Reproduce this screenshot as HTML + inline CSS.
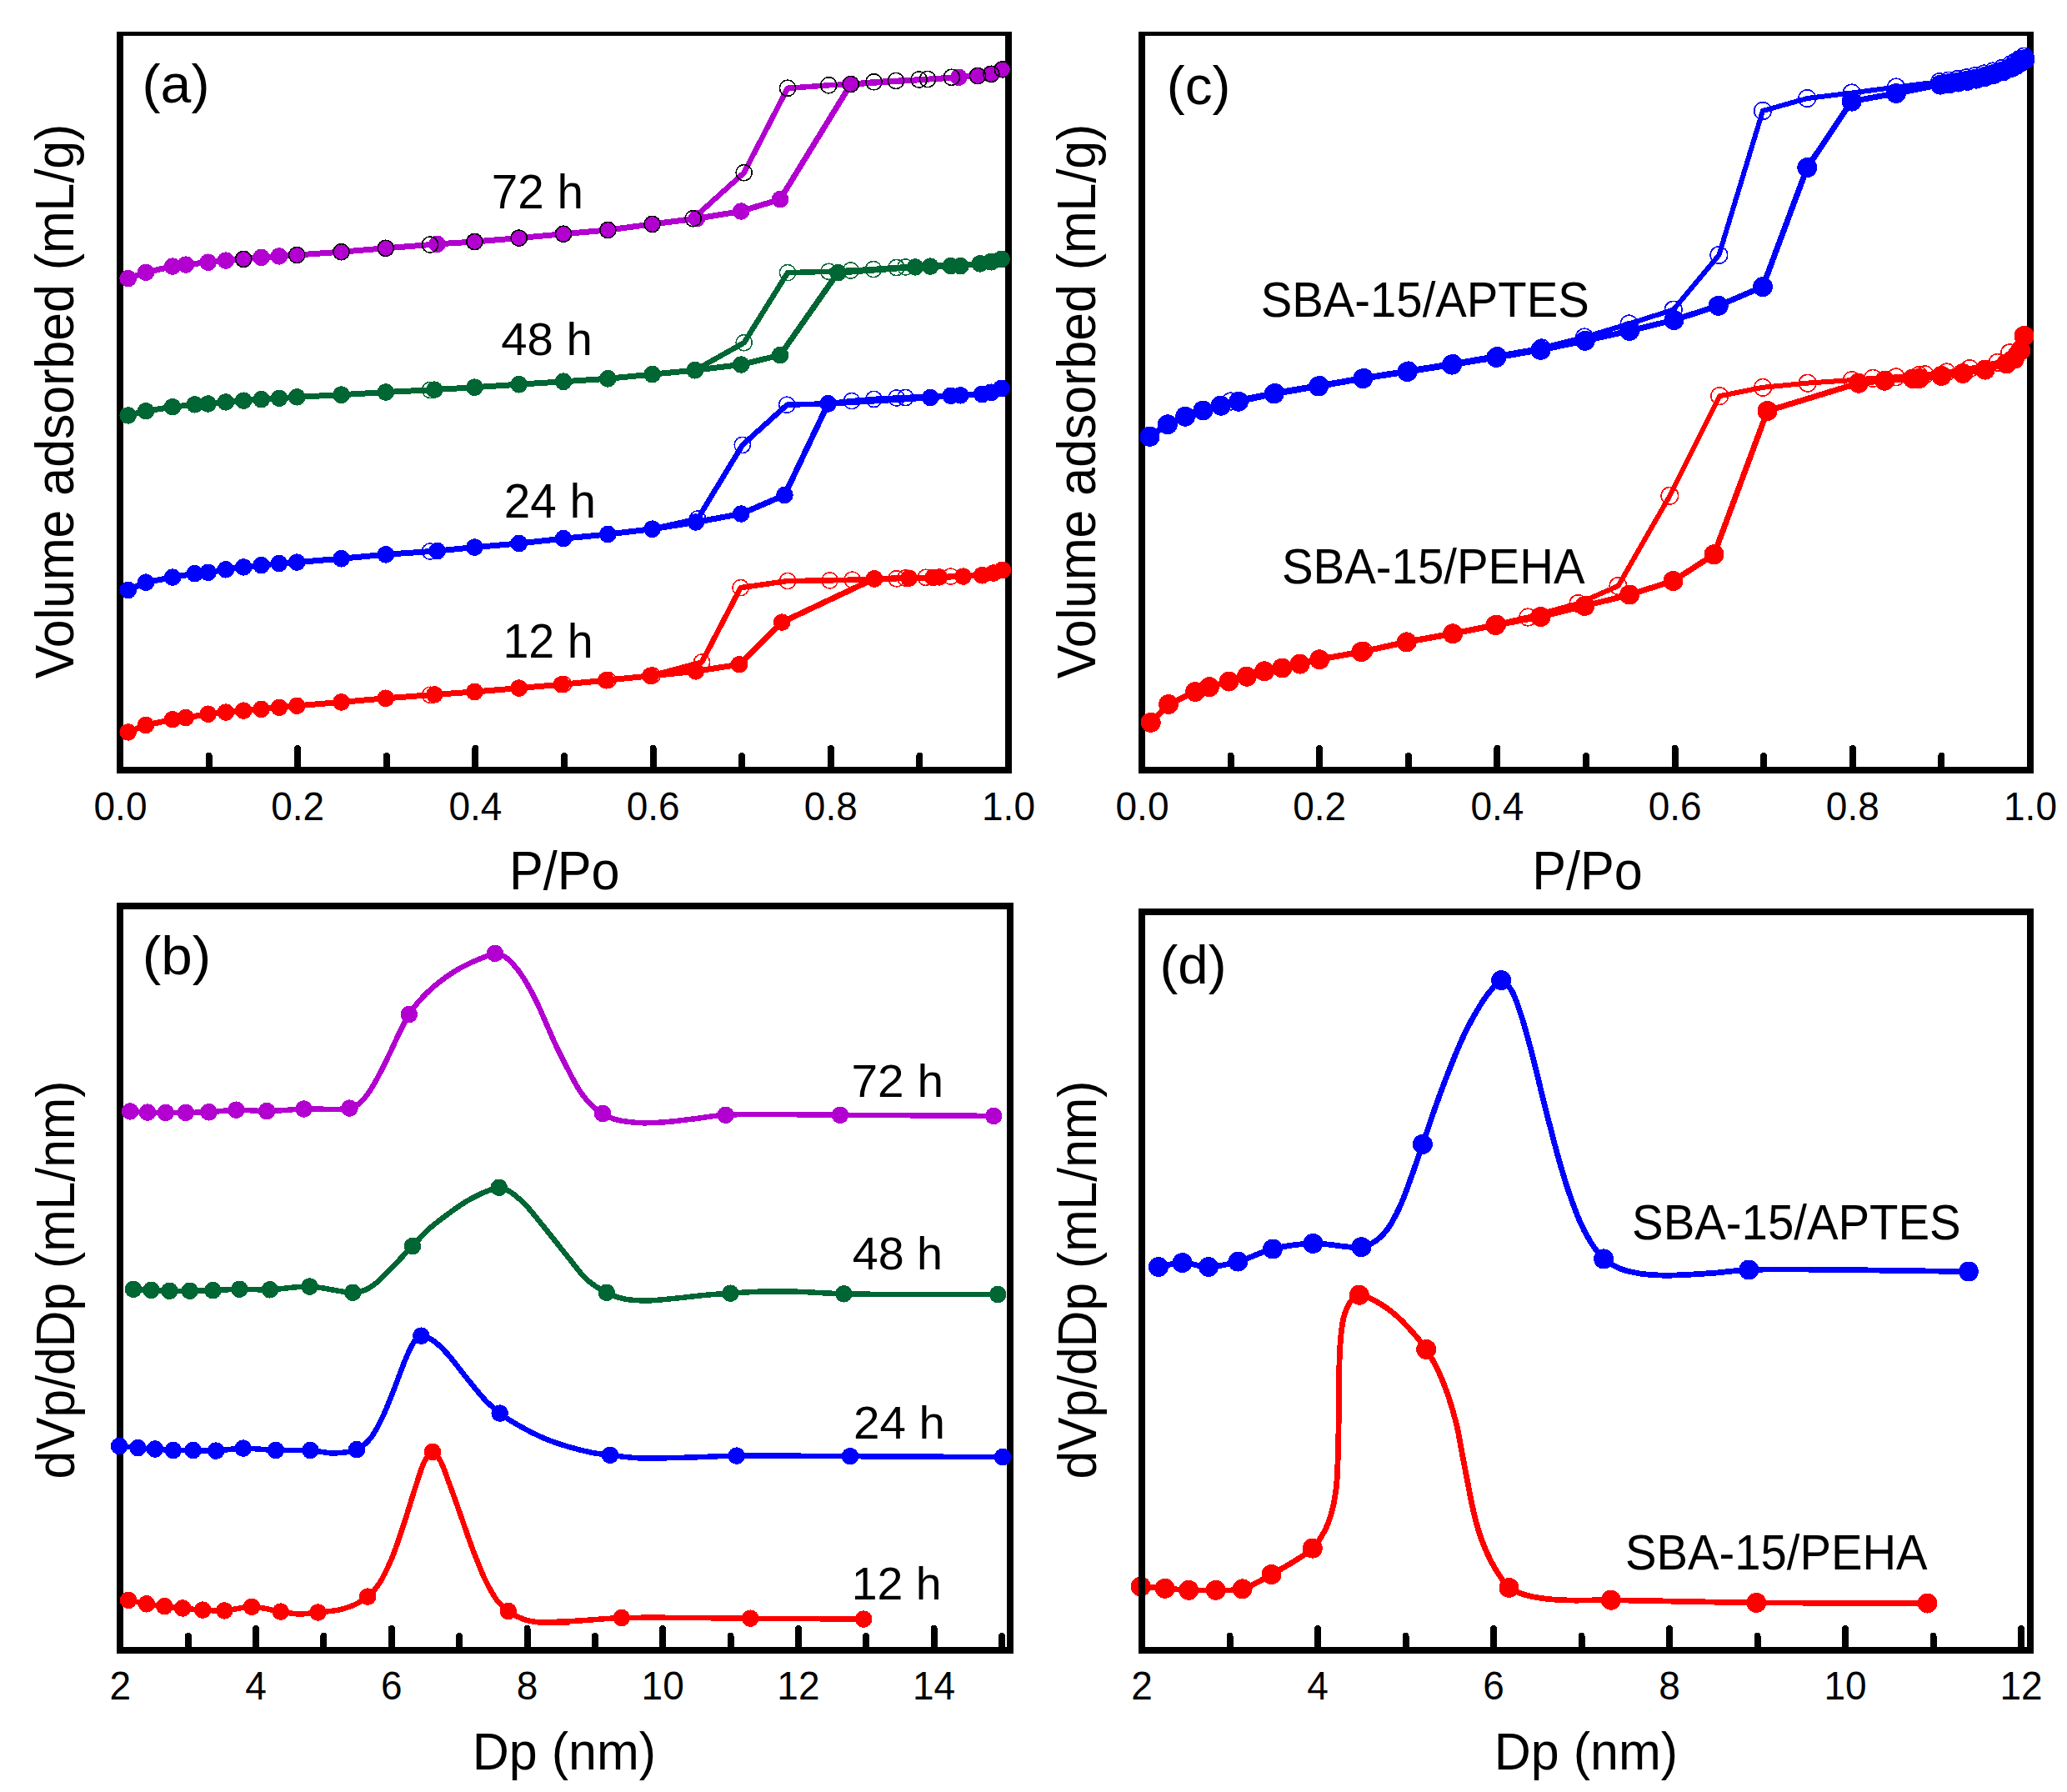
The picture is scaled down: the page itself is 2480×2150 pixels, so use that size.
<!DOCTYPE html><html><head><meta charset="utf-8"><title>N2 sorption isotherms and pore size distributions</title><style>html,body{margin:0;padding:0;background:#fff;overflow:hidden}svg{display:block}</style></head><body><svg width="2480" height="2150" viewBox="0 0 2480 2150" shape-rendering="crispEdges"><rect width="2480" height="2150" fill="#fff"/><g fill="#000" shape-rendering="crispEdges"><rect x="140" y="38" width="1074" height="5"/><rect x="140" y="920" width="1074" height="8"/><rect x="140" y="38" width="8" height="890"/><rect x="1206" y="38" width="8" height="890"/></g><g stroke="#000" stroke-width="8" stroke-linecap="round"><line x1="357.2" x2="357.2" y1="923" y2="898.0"/><line x1="570.4" x2="570.4" y1="923" y2="898.0"/><line x1="783.6" x2="783.6" y1="923" y2="898.0"/><line x1="996.8" x2="996.8" y1="923" y2="898.0"/><line x1="250.6" x2="250.6" y1="923" y2="907.0"/><line x1="463.8" x2="463.8" y1="923" y2="907.0"/><line x1="677.0" x2="677.0" y1="923" y2="907.0"/><line x1="890.2" x2="890.2" y1="923" y2="907.0"/><line x1="1103.4" x2="1103.4" y1="923" y2="907.0"/></g><path d="M153.7,878.4 L175.0,870.0 L207.0,863.3 L222.9,861.0 L249.6,856.7 L270.9,854.6 L292.2,852.6 L313.6,850.9 L334.9,848.8 L356.2,846.8 L409.5,842.4 L462.8,837.8 L521.4,833.4 L569.4,830.0 L622.7,825.6 L673.8,821.2 L727.1,816.3 L780.4,810.8 L834.8,805.4 L887.0,797.2 L938.2,746.6 L1049.0,694.3 L1090.6,693.7 L1119.4,692.9 L1126.9,692.4 L1155.6,691.6 L1178.0,690.2 L1191.9,687.5 L1202.5,684.0" fill="none" stroke="#FF0000" stroke-width="7" stroke-linejoin="round" stroke-linecap="round"/><g fill="#FF0000"><ellipse cx="153.7" cy="878.4" rx="10.3" ry="10.3"/><ellipse cx="175.0" cy="870.0" rx="10.3" ry="10.3"/><ellipse cx="207.0" cy="863.3" rx="10.3" ry="10.3"/><ellipse cx="222.9" cy="861.0" rx="10.3" ry="10.3"/><ellipse cx="249.6" cy="856.7" rx="10.3" ry="10.3"/><ellipse cx="270.9" cy="854.6" rx="10.3" ry="10.3"/><ellipse cx="292.2" cy="852.6" rx="10.3" ry="10.3"/><ellipse cx="313.6" cy="850.9" rx="10.3" ry="10.3"/><ellipse cx="334.9" cy="848.8" rx="10.3" ry="10.3"/><ellipse cx="356.2" cy="846.8" rx="10.3" ry="10.3"/><ellipse cx="409.5" cy="842.4" rx="10.3" ry="10.3"/><ellipse cx="462.8" cy="837.8" rx="10.3" ry="10.3"/><ellipse cx="521.4" cy="833.4" rx="10.3" ry="10.3"/><ellipse cx="569.4" cy="830.0" rx="10.3" ry="10.3"/><ellipse cx="622.7" cy="825.6" rx="10.3" ry="10.3"/><ellipse cx="673.8" cy="821.2" rx="10.3" ry="10.3"/><ellipse cx="727.1" cy="816.3" rx="10.3" ry="10.3"/><ellipse cx="780.4" cy="810.8" rx="10.3" ry="10.3"/><ellipse cx="834.8" cy="805.4" rx="10.3" ry="10.3"/><ellipse cx="887.0" cy="797.2" rx="10.3" ry="10.3"/><ellipse cx="938.2" cy="746.6" rx="10.3" ry="10.3"/><ellipse cx="1049.0" cy="694.3" rx="10.3" ry="10.3"/><ellipse cx="1090.6" cy="693.7" rx="10.3" ry="10.3"/><ellipse cx="1119.4" cy="692.9" rx="10.3" ry="10.3"/><ellipse cx="1126.9" cy="692.4" rx="10.3" ry="10.3"/><ellipse cx="1155.6" cy="691.6" rx="10.3" ry="10.3"/><ellipse cx="1178.0" cy="690.2" rx="10.3" ry="10.3"/><ellipse cx="1191.9" cy="687.5" rx="10.3" ry="10.3"/><ellipse cx="1202.5" cy="684.0" rx="10.3" ry="10.3"/></g><path d="M1202.9,684.0 L1192.0,687.5 L1178.5,690.2 L1140.6,691.6 L1110.8,692.8 L1086.4,693.5 L1075.6,694.3 L1049.0,694.5 L1022.7,695.6 L995.6,696.4 L945.0,697.0 L888.6,705.1 L842.0,794.5 L782.6,810.5 L729.3,816.0 L676.0,820.9 L622.7,825.6 L569.4,830.0 L516.1,833.8 L462.8,837.8 L409.5,842.4" fill="none" stroke="#FF0000" stroke-width="6.5" stroke-linejoin="round" stroke-linecap="round"/><g fill="none" stroke="#FF0000" stroke-width="1.6"><circle cx="1202.9" cy="684.0" r="9.6"/><circle cx="1192.0" cy="687.5" r="9.6"/><circle cx="1178.5" cy="690.2" r="9.6"/><circle cx="1140.6" cy="691.6" r="9.6"/><circle cx="1110.8" cy="692.8" r="9.6"/><circle cx="1086.4" cy="693.5" r="9.6"/><circle cx="1075.6" cy="694.3" r="9.6"/><circle cx="1049.0" cy="694.5" r="9.6"/><circle cx="1022.7" cy="695.6" r="9.6"/><circle cx="995.6" cy="696.4" r="9.6"/><circle cx="945.0" cy="697.0" r="9.6"/><circle cx="888.6" cy="705.1" r="9.6"/><circle cx="842.0" cy="794.5" r="9.6"/><circle cx="782.6" cy="810.5" r="9.6"/><circle cx="729.3" cy="816.0" r="9.6"/><circle cx="676.0" cy="820.9" r="9.6"/><circle cx="622.7" cy="825.6" r="9.6"/><circle cx="569.4" cy="830.0" r="9.6"/><circle cx="516.1" cy="833.8" r="9.6"/><circle cx="462.8" cy="837.8" r="9.6"/><circle cx="409.5" cy="842.4" r="9.6"/></g><path d="M153.7,708.0 L175.0,698.7 L207.0,692.6 L233.6,688.2 L249.6,686.8 L270.9,683.3 L292.2,680.4 L313.6,678.1 L334.9,676.0 L356.2,674.6 L409.5,670.2 L462.8,665.3 L524.6,661.0 L569.4,656.6 L622.7,652.0 L676.0,646.2 L729.3,641.0 L782.6,634.7 L834.8,626.5 L889.2,616.5 L941.4,594.0 L993.6,484.3 L1116.2,477.0 L1140.7,474.8 L1152.4,474.3 L1178.0,472.9 L1188.7,470.8 L1201.5,465.9" fill="none" stroke="#0000FF" stroke-width="7" stroke-linejoin="round" stroke-linecap="round"/><g fill="#0000FF"><ellipse cx="153.7" cy="708.0" rx="10.3" ry="10.3"/><ellipse cx="175.0" cy="698.7" rx="10.3" ry="10.3"/><ellipse cx="207.0" cy="692.6" rx="10.3" ry="10.3"/><ellipse cx="233.6" cy="688.2" rx="10.3" ry="10.3"/><ellipse cx="249.6" cy="686.8" rx="10.3" ry="10.3"/><ellipse cx="270.9" cy="683.3" rx="10.3" ry="10.3"/><ellipse cx="292.2" cy="680.4" rx="10.3" ry="10.3"/><ellipse cx="313.6" cy="678.1" rx="10.3" ry="10.3"/><ellipse cx="334.9" cy="676.0" rx="10.3" ry="10.3"/><ellipse cx="356.2" cy="674.6" rx="10.3" ry="10.3"/><ellipse cx="409.5" cy="670.2" rx="10.3" ry="10.3"/><ellipse cx="462.8" cy="665.3" rx="10.3" ry="10.3"/><ellipse cx="524.6" cy="661.0" rx="10.3" ry="10.3"/><ellipse cx="569.4" cy="656.6" rx="10.3" ry="10.3"/><ellipse cx="622.7" cy="652.0" rx="10.3" ry="10.3"/><ellipse cx="676.0" cy="646.2" rx="10.3" ry="10.3"/><ellipse cx="729.3" cy="641.0" rx="10.3" ry="10.3"/><ellipse cx="782.6" cy="634.7" rx="10.3" ry="10.3"/><ellipse cx="834.8" cy="626.5" rx="10.3" ry="10.3"/><ellipse cx="889.2" cy="616.5" rx="10.3" ry="10.3"/><ellipse cx="941.4" cy="594.0" rx="10.3" ry="10.3"/><ellipse cx="993.6" cy="484.3" rx="10.3" ry="10.3"/><ellipse cx="1116.2" cy="477.0" rx="10.3" ry="10.3"/><ellipse cx="1140.7" cy="474.8" rx="10.3" ry="10.3"/><ellipse cx="1152.4" cy="474.3" rx="10.3" ry="10.3"/><ellipse cx="1178.0" cy="472.9" rx="10.3" ry="10.3"/><ellipse cx="1188.7" cy="470.8" rx="10.3" ry="10.3"/><ellipse cx="1201.5" cy="465.9" rx="10.3" ry="10.3"/></g><path d="M1201.5,465.9 L1189.3,470.8 L1178.5,472.9 L1086.4,477.0 L1075.6,477.5 L1048.5,478.9 L1021.9,481.1 L993.7,484.3 L944.2,485.7 L890.8,533.9 L837.1,622.5 L782.6,634.7 L729.3,641.0 L676.0,646.2 L622.7,652.0 L569.4,656.6 L516.1,661.5 L462.8,665.3 L409.5,670.2" fill="none" stroke="#0000FF" stroke-width="6.5" stroke-linejoin="round" stroke-linecap="round"/><g fill="none" stroke="#0000FF" stroke-width="1.6"><circle cx="1201.5" cy="465.9" r="9.6"/><circle cx="1189.3" cy="470.8" r="9.6"/><circle cx="1178.5" cy="472.9" r="9.6"/><circle cx="1086.4" cy="477.0" r="9.6"/><circle cx="1075.6" cy="477.5" r="9.6"/><circle cx="1048.5" cy="478.9" r="9.6"/><circle cx="1021.9" cy="481.1" r="9.6"/><circle cx="993.7" cy="484.3" r="9.6"/><circle cx="944.2" cy="485.7" r="9.6"/><circle cx="890.8" cy="533.9" r="9.6"/><circle cx="837.1" cy="622.5" r="9.6"/><circle cx="782.6" cy="634.7" r="9.6"/><circle cx="729.3" cy="641.0" r="9.6"/><circle cx="676.0" cy="646.2" r="9.6"/><circle cx="622.7" cy="652.0" r="9.6"/><circle cx="569.4" cy="656.6" r="9.6"/><circle cx="516.1" cy="661.5" r="9.6"/><circle cx="462.8" cy="665.3" r="9.6"/><circle cx="409.5" cy="670.2" r="9.6"/></g><path d="M153.7,498.4 L175.0,493.2 L207.0,488.2 L233.6,485.3 L249.6,484.5 L270.9,482.4 L292.2,480.7 L313.6,479.2 L334.9,477.8 L356.2,476.3 L409.5,473.7 L462.8,470.5 L521.4,467.6 L569.4,464.7 L622.7,461.2 L676.0,457.8 L729.3,454.3 L782.6,449.1 L833.7,444.2 L889.2,437.5 L936.0,426.1 L1005.3,327.2 L1098.1,320.4 L1116.2,319.6 L1140.7,319.1 L1152.4,319.1 L1175.9,316.3 L1188.7,314.2 L1201.5,310.9" fill="none" stroke="#006633" stroke-width="7" stroke-linejoin="round" stroke-linecap="round"/><g fill="#006633"><ellipse cx="153.7" cy="498.4" rx="10.3" ry="10.3"/><ellipse cx="175.0" cy="493.2" rx="10.3" ry="10.3"/><ellipse cx="207.0" cy="488.2" rx="10.3" ry="10.3"/><ellipse cx="233.6" cy="485.3" rx="10.3" ry="10.3"/><ellipse cx="249.6" cy="484.5" rx="10.3" ry="10.3"/><ellipse cx="270.9" cy="482.4" rx="10.3" ry="10.3"/><ellipse cx="292.2" cy="480.7" rx="10.3" ry="10.3"/><ellipse cx="313.6" cy="479.2" rx="10.3" ry="10.3"/><ellipse cx="334.9" cy="477.8" rx="10.3" ry="10.3"/><ellipse cx="356.2" cy="476.3" rx="10.3" ry="10.3"/><ellipse cx="409.5" cy="473.7" rx="10.3" ry="10.3"/><ellipse cx="462.8" cy="470.5" rx="10.3" ry="10.3"/><ellipse cx="521.4" cy="467.6" rx="10.3" ry="10.3"/><ellipse cx="569.4" cy="464.7" rx="10.3" ry="10.3"/><ellipse cx="622.7" cy="461.2" rx="10.3" ry="10.3"/><ellipse cx="676.0" cy="457.8" rx="10.3" ry="10.3"/><ellipse cx="729.3" cy="454.3" rx="10.3" ry="10.3"/><ellipse cx="782.6" cy="449.1" rx="10.3" ry="10.3"/><ellipse cx="833.7" cy="444.2" rx="10.3" ry="10.3"/><ellipse cx="889.2" cy="437.5" rx="10.3" ry="10.3"/><ellipse cx="936.0" cy="426.1" rx="10.3" ry="10.3"/><ellipse cx="1005.3" cy="327.2" rx="10.3" ry="10.3"/><ellipse cx="1098.1" cy="320.4" rx="10.3" ry="10.3"/><ellipse cx="1116.2" cy="319.6" rx="10.3" ry="10.3"/><ellipse cx="1140.7" cy="319.1" rx="10.3" ry="10.3"/><ellipse cx="1152.4" cy="319.1" rx="10.3" ry="10.3"/><ellipse cx="1175.9" cy="316.3" rx="10.3" ry="10.3"/><ellipse cx="1188.7" cy="314.2" rx="10.3" ry="10.3"/><ellipse cx="1201.5" cy="310.9" rx="10.3" ry="10.3"/></g><path d="M1201.5,310.9 L1189.3,314.2 L1175.8,316.3 L1086.4,320.4 L1075.6,321.0 L1047.9,323.1 L1020.8,324.5 L994.3,325.8 L945.0,327.2 L892.7,411.2 L833.9,444.2 L782.6,449.1 L729.3,454.3 L676.0,457.8 L622.7,461.2 L569.4,464.7 L516.1,467.9 L462.8,470.5 L409.5,473.7" fill="none" stroke="#006633" stroke-width="6.5" stroke-linejoin="round" stroke-linecap="round"/><g fill="none" stroke="#006633" stroke-width="1.6"><circle cx="1201.5" cy="310.9" r="9.6"/><circle cx="1189.3" cy="314.2" r="9.6"/><circle cx="1175.8" cy="316.3" r="9.6"/><circle cx="1086.4" cy="320.4" r="9.6"/><circle cx="1075.6" cy="321.0" r="9.6"/><circle cx="1047.9" cy="323.1" r="9.6"/><circle cx="1020.8" cy="324.5" r="9.6"/><circle cx="994.3" cy="325.8" r="9.6"/><circle cx="945.0" cy="327.2" r="9.6"/><circle cx="892.7" cy="411.2" r="9.6"/><circle cx="833.9" cy="444.2" r="9.6"/><circle cx="782.6" cy="449.1" r="9.6"/><circle cx="729.3" cy="454.3" r="9.6"/><circle cx="676.0" cy="457.8" r="9.6"/><circle cx="622.7" cy="461.2" r="9.6"/><circle cx="569.4" cy="464.7" r="9.6"/><circle cx="516.1" cy="467.9" r="9.6"/><circle cx="462.8" cy="470.5" r="9.6"/><circle cx="409.5" cy="473.7" r="9.6"/></g><path d="M153.7,334.1 L175.0,326.8 L207.0,319.6 L222.9,317.6 L249.6,314.7 L270.9,312.6 L292.2,310.9 L313.6,308.9 L334.9,307.4 L356.2,306.0 L409.5,302.2 L462.8,297.8 L524.6,292.9 L569.4,290.0 L622.7,285.6 L676.0,280.7 L729.3,276.0 L782.6,268.9 L835.9,262.2 L889.2,253.5 L936.0,239.1 L1020.8,101.0 L1150.3,92.8 L1172.7,91.0 L1188.7,88.8 L1202.5,83.3" fill="none" stroke="#B200D0" stroke-width="7" stroke-linejoin="round" stroke-linecap="round"/><g fill="#B200D0"><ellipse cx="153.7" cy="334.1" rx="10.3" ry="10.3"/><ellipse cx="175.0" cy="326.8" rx="10.3" ry="10.3"/><ellipse cx="207.0" cy="319.6" rx="10.3" ry="10.3"/><ellipse cx="222.9" cy="317.6" rx="10.3" ry="10.3"/><ellipse cx="249.6" cy="314.7" rx="10.3" ry="10.3"/><ellipse cx="270.9" cy="312.6" rx="10.3" ry="10.3"/><ellipse cx="292.2" cy="310.9" rx="10.3" ry="10.3"/><ellipse cx="313.6" cy="308.9" rx="10.3" ry="10.3"/><ellipse cx="334.9" cy="307.4" rx="10.3" ry="10.3"/><ellipse cx="356.2" cy="306.0" rx="10.3" ry="10.3"/><ellipse cx="409.5" cy="302.2" rx="10.3" ry="10.3"/><ellipse cx="462.8" cy="297.8" rx="10.3" ry="10.3"/><ellipse cx="524.6" cy="292.9" rx="10.3" ry="10.3"/><ellipse cx="569.4" cy="290.0" rx="10.3" ry="10.3"/><ellipse cx="622.7" cy="285.6" rx="10.3" ry="10.3"/><ellipse cx="676.0" cy="280.7" rx="10.3" ry="10.3"/><ellipse cx="729.3" cy="276.0" rx="10.3" ry="10.3"/><ellipse cx="782.6" cy="268.9" rx="10.3" ry="10.3"/><ellipse cx="835.9" cy="262.2" rx="10.3" ry="10.3"/><ellipse cx="889.2" cy="253.5" rx="10.3" ry="10.3"/><ellipse cx="936.0" cy="239.1" rx="10.3" ry="10.3"/><ellipse cx="1020.8" cy="101.0" rx="10.3" ry="10.3"/><ellipse cx="1150.3" cy="92.8" rx="10.3" ry="10.3"/><ellipse cx="1172.7" cy="91.0" rx="10.3" ry="10.3"/><ellipse cx="1188.7" cy="88.8" rx="10.3" ry="10.3"/><ellipse cx="1202.5" cy="83.3" rx="10.3" ry="10.3"/></g><path d="M1202.9,83.3 L1189.3,88.8 L1173.0,91.0 L1141.9,92.8 L1113.0,95.0 L1102.6,95.5 L1075.0,96.9 L1048.5,98.3 L1020.8,101.0 L994.3,102.3 L945.0,105.8 L892.7,207.2 L831.7,262.2 L782.6,268.9 L729.3,276.0 L676.0,280.7 L622.7,285.6 L569.4,290.0 L516.1,293.5 L462.8,297.8 L409.5,302.2 L356.2,306.0 L292.2,310.9" fill="none" stroke="#B200D0" stroke-width="6.5" stroke-linejoin="round" stroke-linecap="round"/><g fill="none" stroke="#000" stroke-width="1.6"><circle cx="1202.9" cy="83.3" r="9.6"/><circle cx="1189.3" cy="88.8" r="9.6"/><circle cx="1173.0" cy="91.0" r="9.6"/><circle cx="1141.9" cy="92.8" r="9.6"/><circle cx="1113.0" cy="95.0" r="9.6"/><circle cx="1102.6" cy="95.5" r="9.6"/><circle cx="1075.0" cy="96.9" r="9.6"/><circle cx="1048.5" cy="98.3" r="9.6"/><circle cx="1020.8" cy="101.0" r="9.6"/><circle cx="994.3" cy="102.3" r="9.6"/><circle cx="945.0" cy="105.8" r="9.6"/><circle cx="892.7" cy="207.2" r="9.6"/><circle cx="831.7" cy="262.2" r="9.6"/><circle cx="782.6" cy="268.9" r="9.6"/><circle cx="729.3" cy="276.0" r="9.6"/><circle cx="676.0" cy="280.7" r="9.6"/><circle cx="622.7" cy="285.6" r="9.6"/><circle cx="569.4" cy="290.0" r="9.6"/><circle cx="516.1" cy="293.5" r="9.6"/><circle cx="462.8" cy="297.8" r="9.6"/><circle cx="409.5" cy="302.2" r="9.6"/><circle cx="356.2" cy="306.0" r="9.6"/><circle cx="292.2" cy="310.9" r="9.6"/></g><g fill="#000" shape-rendering="crispEdges"><rect x="140" y="1083" width="1076" height="8"/><rect x="140" y="1976" width="1076" height="8"/><rect x="140" y="1083" width="8" height="901"/><rect x="1208" y="1083" width="8" height="901"/></g><g stroke="#000" stroke-width="8" stroke-linecap="round"><line x1="307.1" x2="307.1" y1="1979" y2="1954.0"/><line x1="469.8" x2="469.8" y1="1979" y2="1954.0"/><line x1="632.5" x2="632.5" y1="1979" y2="1954.0"/><line x1="795.2" x2="795.2" y1="1979" y2="1954.0"/><line x1="957.9" x2="957.9" y1="1979" y2="1954.0"/><line x1="1120.6" x2="1120.6" y1="1979" y2="1954.0"/><line x1="225.8" x2="225.8" y1="1979" y2="1963.0"/><line x1="388.4" x2="388.4" y1="1979" y2="1963.0"/><line x1="551.1" x2="551.1" y1="1979" y2="1963.0"/><line x1="713.8" x2="713.8" y1="1979" y2="1963.0"/><line x1="876.5" x2="876.5" y1="1979" y2="1963.0"/><line x1="1039.2" x2="1039.2" y1="1979" y2="1963.0"/><line x1="1202.0" x2="1202.0" y1="1979" y2="1963.0"/></g><path d="M154.1,1919.9 C161.3,1921.4 168.6,1923.1 175.9,1924.3 C183.0,1925.5 190.2,1926.3 197.3,1927.2 C204.6,1928.1 211.7,1928.8 219.1,1929.5 C226.9,1930.3 235.0,1931.1 243.2,1931.6 C251.7,1932.1 260.2,1932.9 269.3,1932.4 C279.7,1931.9 291.1,1927.6 302.1,1927.8 C313.5,1927.9 326.4,1932.1 336.7,1933.6 C345.0,1934.8 351.8,1936.4 359.3,1936.5 C366.7,1936.6 373.8,1935.3 381.4,1934.5 C389.3,1933.6 398.4,1933.1 405.8,1931.6 C412.1,1930.2 417.5,1928.8 423.2,1926.3 C429.3,1923.6 435.9,1920.0 441.2,1915.6 C446.5,1911.1 450.8,1906.1 455.1,1899.6 C460.4,1891.7 465.1,1881.2 469.6,1870.6 C474.9,1858.3 479.4,1844.0 484.1,1830.0 C489.1,1815.0 493.9,1797.5 498.7,1783.5 C502.6,1771.8 505.9,1758.8 510.3,1751.6 C513.0,1747.1 516.1,1742.0 519.0,1742.0 C521.9,1742.0 524.9,1747.2 527.7,1751.6 C531.9,1758.4 535.3,1770.1 539.3,1780.6 C544.0,1793.0 549.0,1807.7 553.8,1821.2 C558.6,1834.8 563.3,1848.9 568.3,1861.9 C573.0,1874.0 577.6,1886.3 582.8,1896.7 C587.4,1905.8 592.2,1915.0 597.3,1921.4 C601.3,1926.3 604.9,1929.5 609.8,1933.0 C615.4,1936.9 622.3,1940.8 629.3,1943.2 C636.5,1945.6 644.3,1946.3 652.5,1946.9 C661.6,1947.6 681.5,1946.7 681.5,1946.6 C681.5,1946.6 650.0,1946.9 650.0,1946.6 C650.0,1946.3 678.4,1945.5 693.5,1944.6 C710.2,1943.7 723.8,1941.8 745.8,1941.1 C783.6,1939.9 850.4,1941.5 900.2,1941.7 C947.0,1942.0 990.8,1942.3 1036.1,1942.6" fill="none" stroke="#FF0000" stroke-width="6.5" stroke-linejoin="round" stroke-linecap="round"/><g fill="#FF0000"><ellipse cx="154.1" cy="1919.9" rx="10.3" ry="10.3"/><ellipse cx="175.9" cy="1924.3" rx="10.3" ry="10.3"/><ellipse cx="197.3" cy="1927.2" rx="10.3" ry="10.3"/><ellipse cx="219.1" cy="1929.5" rx="10.3" ry="10.3"/><ellipse cx="243.2" cy="1931.6" rx="10.3" ry="10.3"/><ellipse cx="269.3" cy="1932.4" rx="10.3" ry="10.3"/><ellipse cx="302.1" cy="1927.8" rx="10.3" ry="10.3"/><ellipse cx="336.7" cy="1933.6" rx="10.3" ry="10.3"/><ellipse cx="381.4" cy="1934.5" rx="10.3" ry="10.3"/><ellipse cx="441.2" cy="1915.6" rx="10.3" ry="10.3"/><ellipse cx="519.0" cy="1742.0" rx="10.3" ry="10.3"/><ellipse cx="609.8" cy="1933.0" rx="10.3" ry="10.3"/><ellipse cx="745.8" cy="1941.1" rx="10.3" ry="10.3"/><ellipse cx="900.2" cy="1941.7" rx="10.3" ry="10.3"/><ellipse cx="1036.1" cy="1942.6" rx="10.3" ry="10.3"/></g><path d="M143.1,1735.0 C150.5,1735.7 158.1,1736.5 165.4,1737.1 C172.4,1737.6 179.1,1738.0 186.0,1738.5 C193.2,1739.0 200.4,1739.7 207.8,1740.0 C215.5,1740.2 223.4,1739.9 231.6,1740.0 C240.5,1740.1 249.6,1740.9 259.2,1740.6 C269.6,1740.2 280.3,1737.8 291.7,1737.6 C304.1,1737.5 317.6,1739.6 330.9,1740.0 C344.5,1740.4 360.0,1739.2 372.4,1740.0 C382.5,1740.6 390.7,1743.6 400.0,1743.5 C409.3,1743.3 420.5,1742.4 428.1,1739.1 C434.4,1736.3 438.9,1732.2 443.5,1726.9 C449.1,1720.5 453.5,1711.3 458.0,1702.2 C463.2,1691.8 467.8,1679.3 472.5,1667.4 C477.4,1655.1 482.4,1640.2 487.0,1629.7 C490.5,1621.8 493.5,1614.0 497.2,1609.3 C499.7,1606.2 502.1,1603.2 505.3,1602.7 C509.1,1602.1 514.4,1605.1 519.0,1607.9 C524.8,1611.5 530.4,1617.5 536.4,1623.9 C543.9,1631.9 551.8,1643.4 559.6,1652.9 C567.3,1662.2 575.5,1672.9 582.8,1680.5 C588.7,1686.5 593.4,1690.7 599.7,1695.6 C606.7,1701.0 615.0,1706.1 623.5,1710.9 C632.5,1716.1 642.7,1721.3 652.5,1725.5 C662.0,1729.5 671.8,1732.7 681.5,1735.6 C691.1,1738.5 701.5,1741.1 710.6,1742.9 C718.2,1744.3 724.1,1744.8 732.1,1745.8 C742.2,1747.0 753.3,1748.7 766.1,1749.3 C782.9,1750.0 804.7,1749.1 824.2,1748.7 C843.9,1748.2 859.8,1747.0 883.7,1746.6 C919.8,1746.1 971.3,1747.0 1020.1,1747.2 C1076.6,1747.5 1142.0,1747.8 1203.0,1748.1" fill="none" stroke="#0000FF" stroke-width="6.5" stroke-linejoin="round" stroke-linecap="round"/><g fill="#0000FF"><ellipse cx="143.1" cy="1735.0" rx="10.3" ry="10.3"/><ellipse cx="165.4" cy="1737.1" rx="10.3" ry="10.3"/><ellipse cx="186.0" cy="1738.5" rx="10.3" ry="10.3"/><ellipse cx="207.8" cy="1740.0" rx="10.3" ry="10.3"/><ellipse cx="231.6" cy="1740.0" rx="10.3" ry="10.3"/><ellipse cx="259.2" cy="1740.6" rx="10.3" ry="10.3"/><ellipse cx="291.7" cy="1737.6" rx="10.3" ry="10.3"/><ellipse cx="330.9" cy="1740.0" rx="10.3" ry="10.3"/><ellipse cx="372.4" cy="1740.0" rx="10.3" ry="10.3"/><ellipse cx="428.1" cy="1739.1" rx="10.3" ry="10.3"/><ellipse cx="505.3" cy="1602.7" rx="10.3" ry="10.3"/><ellipse cx="599.7" cy="1695.6" rx="10.3" ry="10.3"/><ellipse cx="732.1" cy="1745.8" rx="10.3" ry="10.3"/><ellipse cx="883.7" cy="1746.6" rx="10.3" ry="10.3"/><ellipse cx="1020.1" cy="1747.2" rx="10.3" ry="10.3"/><ellipse cx="1203.0" cy="1748.1" rx="10.3" ry="10.3"/></g><path d="M159.9,1546.8 C167.1,1547.2 174.2,1547.6 181.4,1547.9 C188.7,1548.3 195.9,1548.6 203.4,1548.8 C211.4,1549.0 219.4,1548.9 227.8,1548.8 C236.7,1548.7 245.9,1548.5 255.4,1548.2 C265.7,1547.9 276.3,1546.9 287.3,1546.8 C299.1,1546.6 310.9,1547.8 323.9,1547.3 C338.7,1546.9 355.3,1543.1 371.5,1543.6 C388.4,1544.1 411.3,1551.2 423.2,1550.8 C429.5,1550.6 433.0,1549.8 437.7,1547.9 C442.7,1545.9 447.2,1542.7 452.2,1538.6 C458.7,1533.4 465.6,1525.3 472.5,1518.3 C479.8,1510.9 487.5,1502.7 494.9,1495.1 C502.0,1487.7 508.9,1479.8 516.1,1473.3 C522.7,1467.3 529.3,1462.6 536.4,1457.4 C543.8,1451.9 551.7,1446.1 559.6,1441.4 C567.2,1436.9 575.7,1432.6 582.8,1429.8 C588.5,1427.5 593.8,1424.7 598.8,1424.8 C603.4,1425.0 607.4,1427.2 611.9,1429.8 C617.5,1433.1 623.3,1438.4 629.3,1444.3 C636.8,1451.8 644.4,1462.0 652.5,1471.9 C661.7,1483.1 672.3,1496.9 681.5,1508.2 C689.6,1518.0 696.4,1528.4 704.7,1535.7 C712.0,1542.2 720.1,1547.0 727.8,1550.8 C734.7,1554.3 741.0,1556.8 748.7,1558.4 C757.5,1560.2 767.6,1560.5 777.7,1560.4 C788.8,1560.3 801.0,1558.6 812.6,1557.5 C824.2,1556.4 836.3,1554.7 847.4,1553.7 C857.5,1552.8 866.3,1552.3 876.4,1551.7 C887.5,1551.0 899.0,1550.0 911.2,1549.7 C924.9,1549.3 939.3,1549.3 954.8,1549.7 C972.6,1550.1 987.7,1551.7 1012.3,1552.3 C1056.4,1553.4 1135.5,1552.9 1197.2,1553.1" fill="none" stroke="#006633" stroke-width="6.5" stroke-linejoin="round" stroke-linecap="round"/><g fill="#006633"><ellipse cx="159.9" cy="1546.8" rx="10.3" ry="10.3"/><ellipse cx="181.4" cy="1547.9" rx="10.3" ry="10.3"/><ellipse cx="203.4" cy="1548.8" rx="10.3" ry="10.3"/><ellipse cx="227.8" cy="1548.8" rx="10.3" ry="10.3"/><ellipse cx="255.4" cy="1548.2" rx="10.3" ry="10.3"/><ellipse cx="287.3" cy="1546.8" rx="10.3" ry="10.3"/><ellipse cx="323.9" cy="1547.3" rx="10.3" ry="10.3"/><ellipse cx="371.5" cy="1543.6" rx="10.3" ry="10.3"/><ellipse cx="423.2" cy="1550.8" rx="10.3" ry="10.3"/><ellipse cx="494.9" cy="1495.1" rx="10.3" ry="10.3"/><ellipse cx="598.8" cy="1424.8" rx="10.3" ry="10.3"/><ellipse cx="727.8" cy="1550.8" rx="10.3" ry="10.3"/><ellipse cx="876.4" cy="1551.7" rx="10.3" ry="10.3"/><ellipse cx="1012.3" cy="1552.3" rx="10.3" ry="10.3"/><ellipse cx="1197.2" cy="1553.1" rx="10.3" ry="10.3"/></g><path d="M156.1,1333.4 C163.1,1333.8 170.0,1334.3 177.0,1334.6 C184.2,1334.8 191.4,1334.8 198.8,1334.9 C206.6,1334.9 214.6,1334.9 222.9,1334.9 C231.8,1334.8 240.9,1334.8 250.5,1334.3 C260.9,1333.8 272.0,1331.9 283.3,1331.7 C295.2,1331.4 307.3,1333.2 320.1,1333.1 C334.2,1333.0 349.0,1331.1 364.5,1330.5 C381.9,1329.9 407.8,1332.5 419.4,1329.6 C425.3,1328.2 428.1,1326.3 431.9,1323.3 C436.2,1319.8 439.8,1314.6 443.5,1309.3 C447.6,1303.3 451.3,1296.1 455.1,1289.0 C459.1,1281.6 462.9,1273.7 466.7,1265.8 C470.6,1257.7 474.3,1249.2 478.3,1241.1 C482.3,1233.0 485.9,1224.5 490.8,1217.0 C495.6,1209.5 501.5,1202.4 507.4,1196.1 C512.9,1190.2 518.6,1185.2 524.8,1180.1 C531.1,1175.0 538.2,1169.9 545.1,1165.6 C551.7,1161.5 558.8,1158.0 565.4,1154.9 C571.4,1152.1 577.7,1149.6 582.8,1147.6 C586.9,1146.1 590.1,1143.8 593.9,1143.9 C597.8,1143.9 602.1,1145.7 606.1,1148.2 C611.0,1151.4 616.2,1157.4 620.6,1162.7 C624.9,1168.1 628.5,1173.9 632.2,1180.1 C636.2,1186.9 640.1,1194.3 643.8,1201.9 C647.8,1210.2 651.5,1219.3 655.4,1228.0 C659.3,1236.7 662.8,1245.3 667.0,1254.2 C671.5,1263.6 676.6,1273.8 681.5,1283.2 C686.3,1292.2 690.8,1301.7 696.0,1309.3 C700.6,1316.0 705.6,1322.1 710.6,1326.7 C714.7,1330.6 718.7,1333.4 723.1,1336.0 C727.6,1338.7 731.4,1341.0 737.1,1342.7 C744.9,1345.1 756.4,1346.4 766.1,1347.1 C775.8,1347.7 785.0,1347.1 795.1,1346.5 C806.2,1345.8 817.9,1344.1 830.0,1342.7 C843.0,1341.2 853.0,1338.8 870.6,1337.8 C902.8,1335.8 958.8,1337.6 1007.9,1337.8 C1064.8,1337.9 1130.8,1338.5 1192.2,1338.9" fill="none" stroke="#B200D0" stroke-width="6.5" stroke-linejoin="round" stroke-linecap="round"/><g fill="#B200D0"><ellipse cx="156.1" cy="1333.4" rx="10.3" ry="10.3"/><ellipse cx="177.0" cy="1334.6" rx="10.3" ry="10.3"/><ellipse cx="198.8" cy="1334.9" rx="10.3" ry="10.3"/><ellipse cx="222.9" cy="1334.9" rx="10.3" ry="10.3"/><ellipse cx="250.5" cy="1334.3" rx="10.3" ry="10.3"/><ellipse cx="283.3" cy="1331.7" rx="10.3" ry="10.3"/><ellipse cx="320.1" cy="1333.1" rx="10.3" ry="10.3"/><ellipse cx="364.5" cy="1330.5" rx="10.3" ry="10.3"/><ellipse cx="419.4" cy="1329.6" rx="10.3" ry="10.3"/><ellipse cx="490.8" cy="1217.0" rx="10.3" ry="10.3"/><ellipse cx="593.9" cy="1143.9" rx="10.3" ry="10.3"/><ellipse cx="723.1" cy="1336.0" rx="10.3" ry="10.3"/><ellipse cx="870.6" cy="1337.8" rx="10.3" ry="10.3"/><ellipse cx="1007.9" cy="1337.8" rx="10.3" ry="10.3"/><ellipse cx="1192.2" cy="1338.9" rx="10.3" ry="10.3"/></g><g fill="#000" shape-rendering="crispEdges"><rect x="1366" y="38" width="1074" height="5"/><rect x="1366" y="920" width="1074" height="8"/><rect x="1366" y="38" width="8" height="890"/><rect x="2432" y="38" width="8" height="890"/></g><g stroke="#000" stroke-width="8" stroke-linecap="round"><line x1="1583.2" x2="1583.2" y1="923" y2="898.0"/><line x1="1796.4" x2="1796.4" y1="923" y2="898.0"/><line x1="2009.6" x2="2009.6" y1="923" y2="898.0"/><line x1="2222.8" x2="2222.8" y1="923" y2="898.0"/><line x1="1476.6" x2="1476.6" y1="923" y2="907.0"/><line x1="1689.8" x2="1689.8" y1="923" y2="907.0"/><line x1="1903.0" x2="1903.0" y1="923" y2="907.0"/><line x1="2116.2" x2="2116.2" y1="923" y2="907.0"/><line x1="2329.4" x2="2329.4" y1="923" y2="907.0"/></g><path d="M1380.7,866.8 L1402.0,845.0 L1434.0,830.0 L1451.0,824.2 L1474.5,817.5 L1495.8,811.7 L1517.1,805.3 L1538.4,801.5 L1559.7,796.6 L1583.2,791.3 L1633.3,782.1 L1687.7,770.4 L1743.1,760.3 L1794.3,750.1 L1848.6,740.0 L1901.4,726.9 L1955.2,713.5 L2007.5,697.0 L2056.5,665.3 L2120.5,493.1 L2229.7,459.7 L2261.2,456.7 L2295.3,454.4 L2302.8,454.0 L2329.4,450.9 L2355.0,448.0 L2381.6,443.6 L2407.2,436.4 L2416.8,430.6 L2424.3,420.4 L2428.5,403.0" fill="none" stroke="#FF0000" stroke-width="7" stroke-linejoin="round" stroke-linecap="round"/><g fill="#FF0000"><ellipse cx="1380.7" cy="866.8" rx="12" ry="12"/><ellipse cx="1402.0" cy="845.0" rx="12" ry="12"/><ellipse cx="1434.0" cy="830.0" rx="12" ry="12"/><ellipse cx="1451.0" cy="824.2" rx="12" ry="12"/><ellipse cx="1474.5" cy="817.5" rx="12" ry="12"/><ellipse cx="1495.8" cy="811.7" rx="12" ry="12"/><ellipse cx="1517.1" cy="805.3" rx="12" ry="12"/><ellipse cx="1538.4" cy="801.5" rx="12" ry="12"/><ellipse cx="1559.7" cy="796.6" rx="12" ry="12"/><ellipse cx="1583.2" cy="791.3" rx="12" ry="12"/><ellipse cx="1633.3" cy="782.1" rx="12" ry="12"/><ellipse cx="1687.7" cy="770.4" rx="12" ry="12"/><ellipse cx="1743.1" cy="760.3" rx="12" ry="12"/><ellipse cx="1794.3" cy="750.1" rx="12" ry="12"/><ellipse cx="1848.6" cy="740.0" rx="12" ry="12"/><ellipse cx="1901.4" cy="726.9" rx="12" ry="12"/><ellipse cx="1955.2" cy="713.5" rx="12" ry="12"/><ellipse cx="2007.5" cy="697.0" rx="12" ry="12"/><ellipse cx="2056.5" cy="665.3" rx="12" ry="12"/><ellipse cx="2120.5" cy="493.1" rx="12" ry="12"/><ellipse cx="2229.7" cy="459.7" rx="12" ry="12"/><ellipse cx="2261.2" cy="456.7" rx="12" ry="12"/><ellipse cx="2295.3" cy="454.4" rx="12" ry="12"/><ellipse cx="2302.8" cy="454.0" rx="12" ry="12"/><ellipse cx="2329.4" cy="450.9" rx="12" ry="12"/><ellipse cx="2355.0" cy="448.0" rx="12" ry="12"/><ellipse cx="2381.6" cy="443.6" rx="12" ry="12"/><ellipse cx="2407.2" cy="436.4" rx="12" ry="12"/><ellipse cx="2416.8" cy="430.6" rx="12" ry="12"/><ellipse cx="2424.3" cy="420.4" rx="12" ry="12"/><ellipse cx="2428.5" cy="403.0" rx="12" ry="12"/></g><path d="M2428.0,403.0 L2411.2,423.3 L2396.7,434.9 L2363.3,442.2 L2335.7,446.5 L2309.6,449.4 L2302.4,450.2 L2274.8,452.4 L2247.2,453.8 L2221.9,456.1 L2168.8,459.6 L2115.1,464.8 L2063.2,475.2 L2003.4,594.8 L1941.5,703.0 L1893.5,724.0 L1833.2,740.5 L1796.3,749.0 L1743.1,759.5 L1687.7,769.5 L1636.3,781.0 L1583.2,790.5 L1517.1,804.5" fill="none" stroke="#FF0000" stroke-width="6" stroke-linejoin="round" stroke-linecap="round"/><g fill="none" stroke="#FF0000" stroke-width="1.6"><circle cx="2428.0" cy="403.0" r="10.3"/><circle cx="2411.2" cy="423.3" r="10.3"/><circle cx="2396.7" cy="434.9" r="10.3"/><circle cx="2363.3" cy="442.2" r="10.3"/><circle cx="2335.7" cy="446.5" r="10.3"/><circle cx="2309.6" cy="449.4" r="10.3"/><circle cx="2302.4" cy="450.2" r="10.3"/><circle cx="2274.8" cy="452.4" r="10.3"/><circle cx="2247.2" cy="453.8" r="10.3"/><circle cx="2221.9" cy="456.1" r="10.3"/><circle cx="2168.8" cy="459.6" r="10.3"/><circle cx="2115.1" cy="464.8" r="10.3"/><circle cx="2063.2" cy="475.2" r="10.3"/><circle cx="2003.4" cy="594.8" r="10.3"/><circle cx="1941.5" cy="703.0" r="10.3"/><circle cx="1893.5" cy="724.0" r="10.3"/><circle cx="1833.2" cy="740.5" r="10.3"/><circle cx="1796.3" cy="749.0" r="10.3"/><circle cx="1743.1" cy="759.5" r="10.3"/><circle cx="1687.7" cy="769.5" r="10.3"/><circle cx="1636.3" cy="781.0" r="10.3"/><circle cx="1583.2" cy="790.5" r="10.3"/><circle cx="1517.1" cy="804.5" r="10.3"/></g><path d="M1379.5,523.8 L1400.8,509.3 L1422.1,499.7 L1443.4,492.5 L1464.7,486.7 L1486.1,481.7 L1528.7,472.5 L1582.0,463.5 L1635.3,454.2 L1688.6,446.0 L1741.9,437.6 L1795.2,428.9 L1848.5,419.9 L1901.8,408.8 L1955.1,397.0 L2008.4,384.0 L2061.7,366.8 L2115.0,344.1 L2168.3,201.0 L2221.6,121.6 L2274.9,112.0 L2328.2,101.6 L2338.9,100.2 L2349.5,98.6 L2360.2,96.8 L2370.8,94.6 L2381.5,92.0 L2392.2,89.0 L2402.8,85.5 L2413.5,80.8 L2418.8,78.0 L2424.1,74.5 L2429.5,71.2" fill="none" stroke="#0000FF" stroke-width="7" stroke-linejoin="round" stroke-linecap="round"/><g fill="#0000FF"><ellipse cx="1379.5" cy="523.8" rx="12" ry="12"/><ellipse cx="1400.8" cy="509.3" rx="12" ry="12"/><ellipse cx="1422.1" cy="499.7" rx="12" ry="12"/><ellipse cx="1443.4" cy="492.5" rx="12" ry="12"/><ellipse cx="1464.7" cy="486.7" rx="12" ry="12"/><ellipse cx="1486.1" cy="481.7" rx="12" ry="12"/><ellipse cx="1528.7" cy="472.5" rx="12" ry="12"/><ellipse cx="1582.0" cy="463.5" rx="12" ry="12"/><ellipse cx="1635.3" cy="454.2" rx="12" ry="12"/><ellipse cx="1688.6" cy="446.0" rx="12" ry="12"/><ellipse cx="1741.9" cy="437.6" rx="12" ry="12"/><ellipse cx="1795.2" cy="428.9" rx="12" ry="12"/><ellipse cx="1848.5" cy="419.9" rx="12" ry="12"/><ellipse cx="1901.8" cy="408.8" rx="12" ry="12"/><ellipse cx="1955.1" cy="397.0" rx="12" ry="12"/><ellipse cx="2008.4" cy="384.0" rx="12" ry="12"/><ellipse cx="2061.7" cy="366.8" rx="12" ry="12"/><ellipse cx="2115.0" cy="344.1" rx="12" ry="12"/><ellipse cx="2168.3" cy="201.0" rx="12" ry="12"/><ellipse cx="2221.6" cy="121.6" rx="12" ry="12"/><ellipse cx="2274.9" cy="112.0" rx="12" ry="12"/><ellipse cx="2328.2" cy="101.6" rx="12" ry="12"/><ellipse cx="2338.9" cy="100.2" rx="12" ry="12"/><ellipse cx="2349.5" cy="98.6" rx="12" ry="12"/><ellipse cx="2360.2" cy="96.8" rx="12" ry="12"/><ellipse cx="2370.8" cy="94.6" rx="12" ry="12"/><ellipse cx="2381.5" cy="92.0" rx="12" ry="12"/><ellipse cx="2392.2" cy="89.0" rx="12" ry="12"/><ellipse cx="2402.8" cy="85.5" rx="12" ry="12"/><ellipse cx="2413.5" cy="80.8" rx="12" ry="12"/><ellipse cx="2418.8" cy="78.0" rx="12" ry="12"/><ellipse cx="2424.1" cy="74.5" rx="12" ry="12"/><ellipse cx="2429.5" cy="71.2" rx="12" ry="12"/></g><path d="M2428.5,67.7 L2423.1,71.0 L2417.8,74.5 L2412.5,77.3 L2401.8,82.0 L2391.2,85.5 L2380.5,88.5 L2369.8,91.1 L2359.2,93.3 L2348.5,95.1 L2337.9,96.7 L2327.2,98.1 L2275.0,104.5 L2221.8,111.5 L2168.3,118.0 L2115.0,133.0 L2062.4,306.0 L2007.7,371.6 L1954.6,388.5 L1901.0,404.5 L1849.7,417.5 L1796.4,427.0 L1743.1,436.0 L1689.8,444.5 L1636.5,453.0 L1583.2,462.0 L1529.9,471.0 L1476.6,481.5" fill="none" stroke="#0000FF" stroke-width="6" stroke-linejoin="round" stroke-linecap="round"/><g fill="none" stroke="#0000FF" stroke-width="1.6"><circle cx="2428.5" cy="67.7" r="10.3"/><circle cx="2423.1" cy="71.0" r="10.3"/><circle cx="2417.8" cy="74.5" r="10.3"/><circle cx="2412.5" cy="77.3" r="10.3"/><circle cx="2401.8" cy="82.0" r="10.3"/><circle cx="2391.2" cy="85.5" r="10.3"/><circle cx="2380.5" cy="88.5" r="10.3"/><circle cx="2369.8" cy="91.1" r="10.3"/><circle cx="2359.2" cy="93.3" r="10.3"/><circle cx="2348.5" cy="95.1" r="10.3"/><circle cx="2337.9" cy="96.7" r="10.3"/><circle cx="2327.2" cy="98.1" r="10.3"/><circle cx="2275.0" cy="104.5" r="10.3"/><circle cx="2221.8" cy="111.5" r="10.3"/><circle cx="2168.3" cy="118.0" r="10.3"/><circle cx="2115.0" cy="133.0" r="10.3"/><circle cx="2062.4" cy="306.0" r="10.3"/><circle cx="2007.7" cy="371.6" r="10.3"/><circle cx="1954.6" cy="388.5" r="10.3"/><circle cx="1901.0" cy="404.5" r="10.3"/><circle cx="1849.7" cy="417.5" r="10.3"/><circle cx="1796.4" cy="427.0" r="10.3"/><circle cx="1743.1" cy="436.0" r="10.3"/><circle cx="1689.8" cy="444.5" r="10.3"/><circle cx="1636.5" cy="453.0" r="10.3"/><circle cx="1583.2" cy="462.0" r="10.3"/><circle cx="1529.9" cy="471.0" r="10.3"/><circle cx="1476.6" cy="481.5" r="10.3"/></g><path d="M1368.7,1903.5 C1378.4,1904.3 1388.1,1905.1 1397.7,1905.8 C1407.3,1906.5 1416.4,1907.5 1426.2,1907.8 C1436.7,1908.2 1447.9,1908.1 1458.7,1907.8 C1469.4,1907.6 1480.0,1909.1 1490.6,1906.4 C1502.3,1903.3 1513.0,1896.0 1525.5,1889.0 C1540.7,1880.4 1563.8,1868.1 1574.8,1857.6 C1582.0,1850.7 1585.4,1844.1 1589.3,1836.7 C1593.2,1829.4 1595.7,1821.8 1598.0,1813.5 C1600.5,1804.5 1602.0,1794.8 1603.3,1784.5 C1604.6,1772.8 1604.8,1759.8 1605.3,1746.7 C1605.8,1732.7 1605.9,1718.7 1606.2,1703.2 C1606.4,1685.2 1606.3,1662.0 1606.7,1645.1 C1607.1,1632.0 1607.2,1621.4 1608.2,1610.3 C1609.1,1600.2 1609.7,1589.8 1612.0,1581.3 C1613.9,1574.2 1616.2,1567.2 1619.8,1562.4 C1622.8,1558.5 1626.4,1554.4 1630.8,1553.7 C1636.2,1552.9 1643.7,1557.5 1650.3,1561.0 C1657.9,1564.9 1666.3,1570.9 1673.5,1576.9 C1680.8,1583.0 1687.5,1590.2 1693.8,1597.2 C1700.1,1604.2 1706.0,1611.2 1711.2,1619.0 C1716.7,1627.1 1721.4,1636.1 1725.7,1645.1 C1730.2,1654.4 1733.8,1664.0 1737.4,1674.2 C1741.2,1685.2 1744.6,1697.1 1747.5,1709.0 C1750.5,1721.3 1752.4,1734.2 1754.8,1746.7 C1757.2,1759.3 1759.6,1772.2 1762.0,1784.5 C1764.4,1796.3 1766.5,1808.3 1769.3,1819.3 C1771.9,1829.5 1774.5,1839.0 1778.0,1848.3 C1781.3,1857.4 1785.5,1866.6 1789.6,1874.5 C1793.3,1881.4 1797.4,1887.9 1801.2,1893.3 C1804.3,1897.8 1806.3,1901.7 1810.5,1904.9 C1815.5,1908.8 1823.3,1911.5 1830.2,1913.6 C1837.6,1915.9 1845.3,1916.9 1853.5,1918.0 C1862.6,1919.2 1871.5,1919.7 1882.5,1920.0 C1897.0,1920.5 1911.0,1919.6 1932.8,1919.7 C1973.5,1920.0 2046.8,1922.3 2107.3,1922.9 C2172.9,1923.6 2244.1,1923.3 2312.5,1923.5" fill="none" stroke="#FF0000" stroke-width="6.8" stroke-linejoin="round" stroke-linecap="round"/><g fill="#FF0000"><ellipse cx="1368.7" cy="1903.5" rx="12" ry="12"/><ellipse cx="1397.7" cy="1905.8" rx="12" ry="12"/><ellipse cx="1426.2" cy="1907.8" rx="12" ry="12"/><ellipse cx="1458.7" cy="1907.8" rx="12" ry="12"/><ellipse cx="1490.6" cy="1906.4" rx="12" ry="12"/><ellipse cx="1525.5" cy="1889.0" rx="12" ry="12"/><ellipse cx="1574.8" cy="1857.6" rx="12" ry="12"/><ellipse cx="1630.8" cy="1553.7" rx="12" ry="12"/><ellipse cx="1711.2" cy="1619.0" rx="12" ry="12"/><ellipse cx="1810.5" cy="1904.9" rx="12" ry="12"/><ellipse cx="1932.8" cy="1919.7" rx="12" ry="12"/><ellipse cx="2107.3" cy="1922.9" rx="12" ry="12"/><ellipse cx="2312.5" cy="1923.5" rx="12" ry="12"/></g><path d="M1389.9,1520.0 C1399.5,1518.4 1408.8,1515.2 1418.6,1515.1 C1428.9,1515.0 1439.2,1520.1 1450.0,1520.0 C1461.4,1519.9 1473.3,1516.9 1485.4,1513.6 C1498.8,1510.0 1512.3,1502.2 1526.9,1498.5 C1542.2,1494.7 1558.5,1492.4 1575.4,1491.9 C1593.8,1491.3 1620.1,1498.5 1633.4,1496.2 C1640.9,1495.0 1645.2,1492.4 1650.3,1489.0 C1655.7,1485.3 1660.3,1480.4 1664.8,1474.5 C1670.2,1467.3 1674.8,1458.0 1679.3,1448.3 C1684.6,1437.1 1689.2,1423.2 1693.8,1410.6 C1698.4,1398.1 1702.3,1386.1 1706.9,1372.9 C1711.9,1358.2 1717.3,1341.9 1722.8,1326.4 C1728.4,1310.9 1734.3,1294.9 1740.3,1280.0 C1745.9,1265.9 1751.6,1251.9 1757.7,1239.3 C1763.2,1227.9 1769.3,1216.7 1775.1,1207.4 C1779.9,1199.7 1784.8,1192.6 1789.6,1187.1 C1793.5,1182.6 1797.3,1176.1 1801.2,1176.1 C1805.1,1176.1 1809.4,1182.1 1812.8,1187.1 C1817.6,1194.1 1820.8,1205.5 1824.4,1216.1 C1828.7,1228.4 1832.3,1242.7 1836.1,1256.7 C1840.1,1271.7 1843.8,1287.7 1847.7,1303.2 C1851.5,1318.7 1855.3,1334.4 1859.3,1349.6 C1863.1,1364.4 1866.9,1379.2 1870.9,1393.2 C1874.6,1406.2 1878.2,1418.4 1882.5,1430.9 C1886.9,1443.6 1891.7,1457.4 1897.0,1468.7 C1901.5,1478.3 1906.5,1487.4 1911.5,1494.8 C1915.6,1500.9 1919.0,1506.0 1924.1,1510.4 C1929.6,1515.2 1936.8,1519.2 1943.9,1522.1 C1951.1,1525.0 1958.9,1526.5 1967.1,1527.9 C1976.2,1529.4 1986.4,1529.9 1996.1,1530.2 C2005.8,1530.4 2015.0,1529.8 2025.1,1529.3 C2036.2,1528.8 2048.1,1527.9 2060.0,1527.0 C2072.4,1526.0 2079.8,1524.3 2098.3,1523.5 C2146.8,1521.5 2274.0,1524.9 2361.9,1525.5" fill="none" stroke="#0000FF" stroke-width="6.8" stroke-linejoin="round" stroke-linecap="round"/><g fill="#0000FF"><ellipse cx="1389.9" cy="1520.0" rx="12" ry="12"/><ellipse cx="1418.6" cy="1515.1" rx="12" ry="12"/><ellipse cx="1450.0" cy="1520.0" rx="12" ry="12"/><ellipse cx="1485.4" cy="1513.6" rx="12" ry="12"/><ellipse cx="1526.9" cy="1498.5" rx="12" ry="12"/><ellipse cx="1575.4" cy="1491.9" rx="12" ry="12"/><ellipse cx="1633.4" cy="1496.2" rx="12" ry="12"/><ellipse cx="1706.9" cy="1372.9" rx="12" ry="12"/><ellipse cx="1801.2" cy="1176.1" rx="12" ry="12"/><ellipse cx="1924.1" cy="1510.4" rx="12" ry="12"/><ellipse cx="2098.3" cy="1523.5" rx="12" ry="12"/><ellipse cx="2361.9" cy="1525.5" rx="12" ry="12"/></g><g fill="#000" shape-rendering="crispEdges"><rect x="1366" y="1090" width="1074" height="8"/><rect x="1366" y="1976" width="1074" height="8"/><rect x="1366" y="1090" width="8" height="894"/><rect x="2432" y="1090" width="8" height="894"/></g><g stroke="#000" stroke-width="8" stroke-linecap="round"><line x1="1581.0" x2="1581.0" y1="1979" y2="1954.0"/><line x1="1792.0" x2="1792.0" y1="1979" y2="1954.0"/><line x1="2003.0" x2="2003.0" y1="1979" y2="1954.0"/><line x1="2214.0" x2="2214.0" y1="1979" y2="1954.0"/><line x1="2425.0" x2="2425.0" y1="1979" y2="1954.0"/><line x1="1475.5" x2="1475.5" y1="1979" y2="1963.0"/><line x1="1686.5" x2="1686.5" y1="1979" y2="1963.0"/><line x1="1897.5" x2="1897.5" y1="1979" y2="1963.0"/><line x1="2108.5" x2="2108.5" y1="1979" y2="1963.0"/><line x1="2319.5" x2="2319.5" y1="1979" y2="1963.0"/></g><g font-family="'Liberation Sans', Arial, sans-serif"><text transform="translate(112.53,984.13) scale(1.0000,1.0286)" font-size="46" fill="#000">0.0</text><text transform="translate(1338.53,983.73) scale(1.0000,1.0286)" font-size="46" fill="#000">0.0</text><text transform="translate(325.23,984.13) scale(1.0000,1.0286)" font-size="46" fill="#000">0.2</text><text transform="translate(1551.23,983.73) scale(1.0000,1.0286)" font-size="46" fill="#000">0.2</text><text transform="translate(538.43,984.13) scale(1.0000,1.0286)" font-size="46" fill="#000">0.4</text><text transform="translate(1764.43,983.73) scale(1.0000,1.0286)" font-size="46" fill="#000">0.4</text><text transform="translate(751.63,984.13) scale(1.0000,1.0286)" font-size="46" fill="#000">0.6</text><text transform="translate(1977.63,983.73) scale(1.0000,1.0286)" font-size="46" fill="#000">0.6</text><text transform="translate(964.83,984.13) scale(1.0000,1.0286)" font-size="46" fill="#000">0.8</text><text transform="translate(2190.83,983.73) scale(1.0000,1.0286)" font-size="46" fill="#000">0.8</text><text transform="translate(1178.03,984.13) scale(1.0000,1.0286)" font-size="46" fill="#000">1.0</text><text transform="translate(2404.03,983.73) scale(1.0000,1.0286)" font-size="46" fill="#000">1.0</text><text transform="translate(131.61,2038.80) scale(1.0000,1.0300)" font-size="46" fill="#000">2</text><text transform="translate(294.31,2038.80) scale(1.0000,1.0300)" font-size="46" fill="#000">4</text><text transform="translate(457.01,2038.80) scale(1.0000,1.0300)" font-size="46" fill="#000">6</text><text transform="translate(619.71,2038.80) scale(1.0000,1.0300)" font-size="46" fill="#000">8</text><text transform="translate(769.62,2038.80) scale(1.0000,1.0300)" font-size="46" fill="#000">10</text><text transform="translate(932.32,2038.80) scale(1.0000,1.0300)" font-size="46" fill="#000">12</text><text transform="translate(1095.02,2038.80) scale(1.0000,1.0300)" font-size="46" fill="#000">14</text><text transform="translate(1357.21,2038.70) scale(1.0000,1.0300)" font-size="46" fill="#000">2</text><text transform="translate(1568.21,2038.70) scale(1.0000,1.0300)" font-size="46" fill="#000">4</text><text transform="translate(1779.21,2038.70) scale(1.0000,1.0300)" font-size="46" fill="#000">6</text><text transform="translate(1990.21,2038.70) scale(1.0000,1.0300)" font-size="46" fill="#000">8</text><text transform="translate(2188.42,2038.70) scale(1.0000,1.0300)" font-size="46" fill="#000">10</text><text transform="translate(2399.42,2038.70) scale(1.0000,1.0300)" font-size="46" fill="#000">12</text><text transform="translate(610.99,1067.00) scale(1.0017,1.0651)" font-size="61" fill="#000">P/Po</text><text transform="translate(1838.29,1067.00) scale(1.0017,1.0651)" font-size="61" fill="#000">P/Po</text><text transform="translate(566.80,2122.80) scale(0.9999,1.0350)" font-size="61" fill="#000">Dp (nm)</text><text transform="translate(1792.80,2122.80) scale(0.9999,1.0350)" font-size="61" fill="#000">Dp (nm)</text><text transform="translate(88.00,814.34) rotate(-90) scale(1.0134,1.0650)" font-size="60" fill="#000">Volume adsorbed (mL/g)</text><text transform="translate(1314.00,814.34) rotate(-90) scale(1.0134,1.0650)" font-size="60" fill="#000">Volume adsorbed (mL/g)</text><text transform="translate(88.60,1774.54) rotate(-90) scale(1.0097,1.0650)" font-size="60" fill="#000">dVp/dDp (mL/nm)</text><text transform="translate(1314.60,1774.54) rotate(-90) scale(1.0097,1.0650)" font-size="60" fill="#000">dVp/dDp (mL/nm)</text><text transform="translate(170.60,123.11) scale(1.0172,1.0053)" font-size="65" fill="#000">(a)</text><text transform="translate(170.82,1169.39) scale(1.0369,1.0069)" font-size="65" fill="#000">(b)</text><text transform="translate(1399.82,125.29) scale(1.0114,1.0069)" font-size="65" fill="#000">(c)</text><text transform="translate(1391.55,1180.14) scale(1.0060,1.0102)" font-size="65" fill="#000">(d)</text><text transform="translate(589.86,249.80) scale(1.0100,1.0088)" font-size="56" fill="#000">72 h</text><text transform="translate(601.26,426.34) scale(1.0052,0.9950)" font-size="56" fill="#000">48 h</text><text transform="translate(604.87,620.90) scale(1.0098,1.0088)" font-size="56" fill="#000">24 h</text><text transform="translate(603.48,789.00) scale(0.9917,1.0112)" font-size="56" fill="#000">12 h</text><text transform="translate(1021.55,1315.70) scale(1.0139,1.0038)" font-size="56" fill="#000">72 h</text><text transform="translate(1022.67,1523.25) scale(0.9946,0.9804)" font-size="56" fill="#000">48 h</text><text transform="translate(1023.97,1725.50) scale(1.0098,0.9890)" font-size="56" fill="#000">24 h</text><text transform="translate(1021.69,1918.50) scale(0.9898,1.0014)" font-size="56" fill="#000">12 h</text><text transform="translate(1512.71,380.30) scale(1.0050,1.0642)" font-size="56" fill="#000">SBA-15/APTES</text><text transform="translate(1538.01,699.80) scale(1.0070,1.0642)" font-size="56" fill="#000">SBA-15/PEHA</text><text transform="translate(1958.11,1487.40) scale(1.0063,1.0642)" font-size="56" fill="#000">SBA-15/APTES</text><text transform="translate(1950.01,1882.50) scale(1.0045,1.0642)" font-size="56" fill="#000">SBA-15/PEHA</text></g></svg></body></html>
